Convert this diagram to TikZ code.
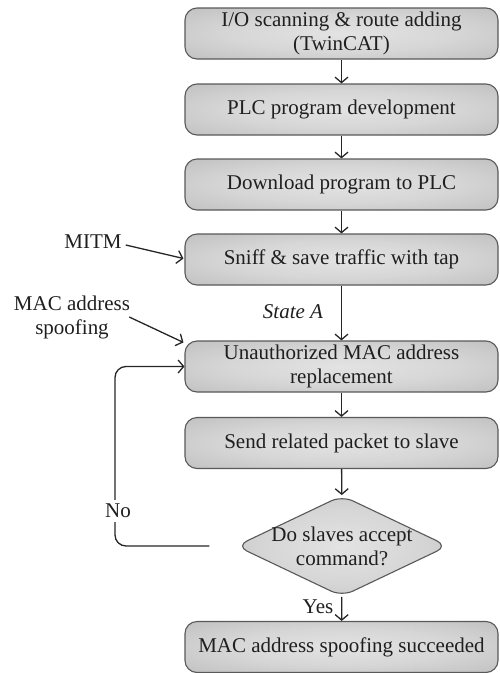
\documentclass[tikz,border=0pt]{standalone}
\usepackage{fontspec}
\setmainfont{Liberation Serif}
\usetikzlibrary{shapes.geometric,arrows.meta,calc}
% soft grey fill, a little lighter in the middle
\pgfdeclareradialshading{boxshade}{\pgfpoint{0bp}{0bp}}{%
  color(0bp)=(black!11); color(18bp)=(black!16); color(35bp)=(black!24);
  color(50bp)=(black!28)}
\begin{document}
\begin{tikzpicture}[x=1pt,y=-1pt,
  txt/.style={text=black!88, font=\fontsize{21}{24}\selectfont},
  proc/.style={txt, draw=black!65, line width=1.1pt, rounded corners=12pt,
    minimum width=313pt, minimum height=51pt, inner sep=0pt, align=center,
    shading=boxshade},
  decision/.style={shape=diamond, draw=black!65, line width=1.1pt,
    rounded corners=12pt, aspect=2.1, minimum width=212pt, minimum height=101pt,
    inner sep=0pt, shading=boxshade},
  lbl/.style={txt, align=center, inner sep=0pt},
  arr/.style={draw=black!85, line width=1.3pt,
    -{Straight Barb[length=5.5pt,width=13pt]}}]
\useasboundingbox (0,0) rectangle (499,673);

% main flow
\node[proc] (b1) at (341.5,33.5) {I/O scanning \& route adding\\(TwinCAT)};
\node[proc] (b2) at (341.5,109.5) {PLC program development};
\node[proc] (b3) at (341.5,184.5) {Download program to PLC};
\node[proc] (b4) at (341.5,259.5) {Sniff \& save traffic with tap};
\node[proc] (b5) at (341.5,366.5) {Unauthorized MAC address\\replacement};
\node[proc] (b6) at (341.5,443) {Send related packet to slave};
\node[decision] (d) at (342,546) {};
\node[lbl] (dtext) at (d) {Do slaves accept\\command?};
\node[proc] (b7) at (341.5,647) {MAC address spoofing succeeded};

\draw[arr] (b1) -- (b2);
\draw[arr] (b2) -- (b3);
\draw[arr] (b3) -- (b4);
\draw[arr] (b4) -- (b5);
\draw[arr] (b5) -- (b6);
\draw[arr] (b6) -- (d);
\draw[arr] (d) -- (b7);

% side labels
\node[lbl, font=\fontsize{21}{24}\selectfont\itshape] (sa) at (293,312) {State A};
\node[lbl] (yes) at (318,607) {Yes};

\node[lbl] (mitm) at (93,242) {MITM};
\draw[arr] ($(mitm.east)+(4,3)$) -- ($(b4.west)+(-1,-1)$);

\node[lbl] (mac) at (72,317) {MAC address\\spoofing};
\draw[arr] ($(mac.east)+(-1,0)$) -- ($(b5.north west)+(-1,2)$);

% "No" feedback loop
\coordinate (nostart) at ($(d.west)+(-26,0)$);
\coordinate (loopx) at (115,0);
\draw[arr, rounded corners=11pt] (nostart) -| (loopx |- b5.west) -- (b5.west);
\node[lbl, fill=white, inner ysep=4pt] (no) at (118,511) {No};
\end{tikzpicture}
\end{document}
